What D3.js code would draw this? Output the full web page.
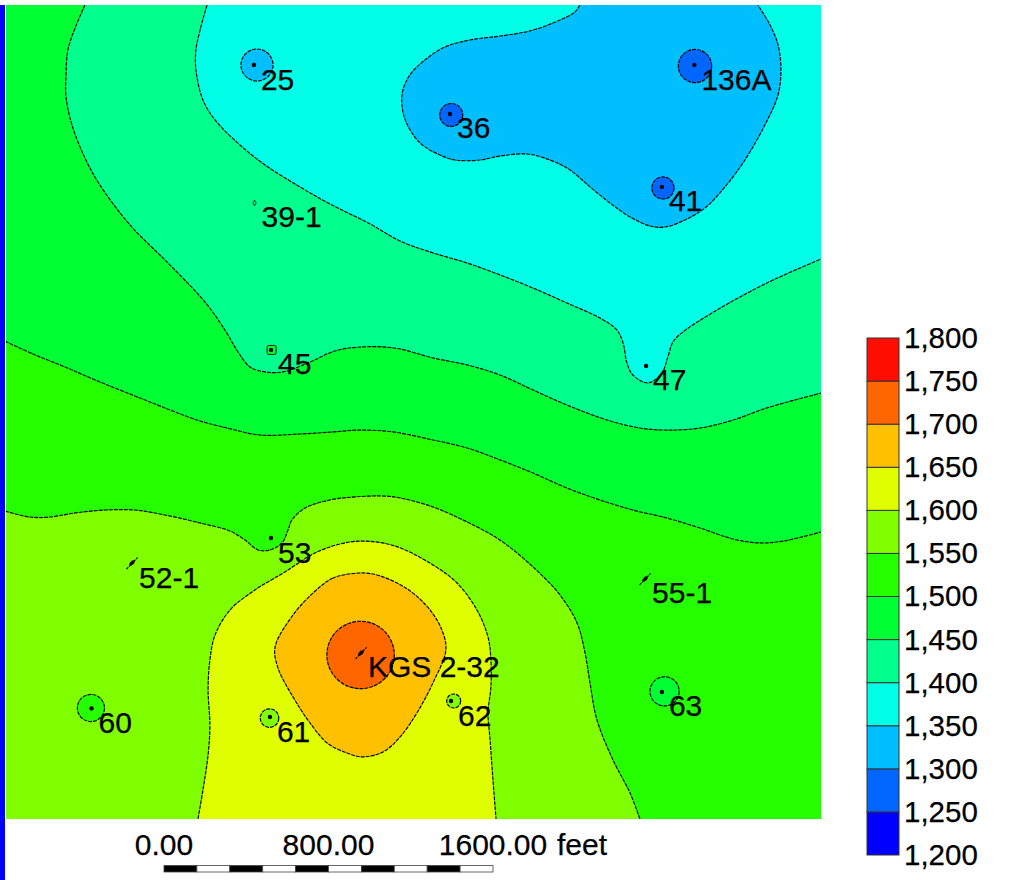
<!DOCTYPE html>
<html>
<head>
  <meta charset="utf-8">
  <script src="https://cdn.jsdelivr.net/npm/d3@7"></script>
  <style>
    html, body { margin: 0; padding: 0; background: #fff; }
    svg { display: block; }
    text { font-family: "Liberation Sans", Arial, sans-serif; fill: #000; stroke: #000; stroke-width: 0.25px; }
  </style>
</head>
<body>
<script type="text/javascript">
// legend levels and the colour of each 50 ft band, lowest first
var levels = [1200, 1250, 1300, 1350, 1400, 1450, 1500, 1550, 1600, 1650, 1700, 1750, 1800];
var bandColors = ["#0000ff", "#0066ff", "#00bfff", "#00ffe6", "#00ff8c", "#00ff33",
                  "#26ff00", "#80ff00", "#dfff00", "#ffc000", "#ff6600", "#ff0d00"];

// map extent in feet (east, north)
var mapWidth = 3970, mapHeight = 3960;

// contour lines, [east, north] in feet
var iso1350 = [[2797,3960],[2773,3926],[2700,3887],[2554,3834],[2408,3809],[2262,3790],[2141,3756],[2043,3693],[1970,3620],[1936,3547],[1931,3474],[1951,3391],[2019,3289],[2116,3230],[2189,3206],[2311,3206],[2408,3225],[2540,3235],[2651,3206],[2749,3157],[2846,3075],[2943,2997],[3041,2929],[3138,2885],[3211,2880],[3308,2914],[3406,2973],[3503,3075],[3600,3206],[3697,3376],[3761,3522],[3775,3644],[3761,3766],[3722,3863],[3663,3960]];
var iso1400 = [[983,3960],[949,3838],[929,3741],[929,3644],[963,3498],[1022,3401],[1143,3279],[1265,3182],[1435,3075],[1581,2992],[1776,2895],[1922,2812],[2082,2754],[2248,2705],[2408,2647],[2569,2583],[2734,2510],[2895,2437],[2977,2379],[3007,2316],[3026,2218],[3055,2160],[3128,2121],[3196,2170],[3225,2248],[3250,2321],[3298,2369],[3464,2476],[3707,2608],[3970,2724]];
var iso1450 = [[389,3960],[341,3848],[306,3741],[297,3620],[297,3513],[326,3376],[389,3216],[462,3084],[608,2890],[803,2695],[973,2515],[1070,2379],[1134,2272],[1192,2199],[1265,2175],[1352,2175],[1484,2223],[1605,2277],[1727,2296],[1897,2291],[2082,2243],[2248,2209],[2408,2160],[2569,2087],[2734,2014],[2929,1941],[3089,1902],[3221,1892],[3381,1902],[3542,1941],[3707,2000],[3970,2072]];
var iso1500 = [[0,2325],[136,2262],[292,2199],[462,2126],[657,2048],[803,1990],[934,1941],[1080,1902],[1241,1868],[1435,1873],[1596,1883],[1727,1892],[1888,1883],[2082,1844],[2248,1805],[2408,1747],[2569,1683],[2734,1610],[2895,1552],[3055,1503],[3221,1464],[3381,1416],[3542,1362],[3673,1343],[3785,1352],[3970,1396]];
var iso1550 = [[0,1498],[122,1469],[219,1469],[341,1489],[487,1503],[632,1503],[778,1479],[949,1440],[1095,1401],[1168,1357],[1231,1309],[1289,1309],[1348,1343],[1377,1406],[1396,1455],[1460,1513],[1581,1552],[1703,1567],[1849,1571],[1922,1562],[2082,1518],[2248,1445],[2408,1357],[2569,1226],[2700,1090],[2783,954],[2822,808],[2846,662],[2880,482],[2958,287],[3041,126],[3089,0]];
var iso1600 = [[939,0],[963,141],[988,311],[997,457],[988,628],[997,774],[1022,895],[1095,1017],[1216,1114],[1362,1202],[1508,1294],[1630,1338],[1742,1352],[1897,1328],[2082,1236],[2199,1148],[2296,1017],[2350,885],[2364,774],[2364,642],[2350,516],[2360,384],[2374,190],[2389,0]];
var iso1650 = [[1727,1197],[1596,1172],[1498,1099],[1401,992],[1314,837],[1328,735],[1401,594],[1484,467],[1567,370],[1664,321],[1737,302],[1839,326],[1922,399],[2004,516],[2082,662],[2145,822],[2126,919],[2068,1017],[1985,1099],[1907,1148],[1810,1187]];

// small closed contours round single wells: east, north, radius (feet), band index
var bullseyes = [
  [1730, 798, 164, 10],
  [1226, 3668, 78, 2],
  [2171, 3425, 56, 1],
  [3357, 3663, 81, 1],
  [3201, 3070, 54, 1],
  [418, 540, 66, 6],
  [1287, 491, 45, 7],
  [2183, 574, 34, 7],
  [3209, 621, 71, 5]
];
// the two tiniest ones come out as a diamond and a square on the grid
var tinyDiamond = [1214, 2997, 4];
var tinySquare = [1297, 2282, 5];

// wells
var wellNames = ["25", "36", "136A", "41", "39-1", "45", "47", "52-1", "53", "55-1", "KGS 2-32", "60", "61", "62", "63"];
var wellEast  = [1211, 2165, 3354, 3196, 1214, 1294, 3119, 618, 1294, 3114, 1732, 421, 1289, 2170, 3196];
var wellNorth = [3668, 3430, 3668, 3075, 2997, 2282, 2204, 1245, 1367, 1168, 808, 538, 496, 574, 618];
// these three have a short slanted mark instead of a dot
var slantWells = ["52-1", "55-1", "KGS 2-32"];

// scale bar
var scaleFeet = [0, 800, 1600];
var scaleBarStep = 160;

var width = 1033, height = 880;

var svg = d3.select("body").append("svg")
  .attr("width", width)
  .attr("height", height);

var x = d3.scaleLinear().domain([0, mapWidth]).range([5, 821]);
var y = d3.scaleLinear().domain([0, mapHeight]).range([819, 5]);
var feetPx = x(1) - x(0);

// blue strip down the left edge
svg.append("rect")
  .attr("x", 0).attr("y", 5)
  .attr("width", 5).attr("height", height - 5)
  .attr("fill", "#0000ff");

svg.append("clipPath").attr("id", "mapClip")
  .append("rect")
  .attr("x", 6).attr("y", 5)
  .attr("width", 815).attr("height", 814);

var map = svg.append("g").attr("clip-path", "url(#mapClip)");

var openLine = d3.line()
  .x(function(d) { return x(d[0]); })
  .y(function(d) { return y(d[1]); })
  .curve(d3.curveCatmullRom.alpha(0.5));

var closedLine = d3.line()
  .x(function(d) { return x(d[0]); })
  .y(function(d) { return y(d[1]); })
  .curve(d3.curveCatmullRomClosed.alpha(0.5));

// straight closing run along the map edge
function fillPath(pts, corners) {
  var tail = corners.map(function(c) { return "L" + x(c[0]) + "," + y(c[1]); }).join("");
  return openLine(pts) + tail + "Z";
}

var topRight = [[mapWidth, mapHeight]];
var topCorners = [[mapWidth, mapHeight], [0, mapHeight]];
var bottomLeft = [[0, 0]];

//base band
map.append("rect")
  .attr("x", x(0)).attr("y", y(mapHeight))
  .attr("width", x(mapWidth) - x(0)).attr("height", y(0) - y(mapHeight))
  .attr("fill", bandColors[6]);

//filled bands, painted from the outside in
var fills = [
  [iso1500, topCorners, 5],
  [iso1450, topRight, 4],
  [iso1400, topRight, 3],
  [iso1350, [], 2],
  [iso1550, bottomLeft, 7],
  [iso1600, [], 8]
];

fills.forEach(function(f) {
  map.append("path").attr("d", fillPath(f[0], f[1])).attr("fill", bandColors[f[2]]);
});

map.append("path").attr("d", closedLine(iso1650)).attr("fill", bandColors[9]);

//contour lines
var dash = "4 1";
var lineWidth = 1.15;

[iso1350, iso1400, iso1450, iso1500, iso1550, iso1600].forEach(function(pts) {
  map.append("path")
    .attr("d", openLine(pts))
    .attr("fill", "none")
    .attr("stroke", "#000")
    .attr("stroke-width", lineWidth)
    .attr("stroke-dasharray", dash);
});

map.append("path")
  .attr("d", closedLine(iso1650))
  .attr("fill", "none")
  .attr("stroke", "#000")
  .attr("stroke-width", lineWidth)
  .attr("stroke-dasharray", dash);

map.selectAll("circle.bull")
  .data(bullseyes)
  .enter().append("circle")
    .attr("class", "bull")
    .attr("cx", function(d) { return x(d[0]); })
    .attr("cy", function(d) { return y(d[1]); })
    .attr("r", function(d) { return d[2] * feetPx; })
    .attr("fill", function(d) { return bandColors[d[3]]; })
    .attr("stroke", "#000")
    .attr("stroke-width", lineWidth)
    .attr("stroke-dasharray", dash);

//the two tiny contours
map.append("path")
  .attr("d", d3.symbol().type(d3.symbolDiamond).size(9))
  .attr("transform", "translate(" + x(tinyDiamond[0]) + "," + y(tinyDiamond[1]) + ")")
  .attr("fill", bandColors[tinyDiamond[2]])
  .attr("stroke", "#000")
  .attr("stroke-width", 0.8);

map.append("rect")
  .attr("x", x(tinySquare[0]) - 4.5).attr("y", y(tinySquare[1]) - 4.5)
  .attr("width", 9).attr("height", 9)
  .attr("rx", 1.5)
  .attr("fill", bandColors[tinySquare[2]])
  .attr("stroke", "#000")
  .attr("stroke-width", 0.9);

//well marks and labels
wellNames.forEach(function(name, i) {
  var cx = x(wellEast[i]), cy = y(wellNorth[i]);
  if (name === "39-1") {
    // only the tiny diamond contour shows here
  } else if (slantWells.indexOf(name) >= 0) {
    map.append("line")
      .attr("x1", cx - 5.5).attr("y1", cy + 6)
      .attr("x2", cx + 5.5).attr("y2", cy - 5.5)
      .attr("stroke", "#000")
      .attr("stroke-width", 1.2)
      .attr("stroke-dasharray", "2.5 1");
    map.append("ellipse")
      .attr("cx", cx).attr("cy", cy)
      .attr("rx", 3.2).attr("ry", 1.8)
      .attr("transform", "rotate(-45 " + cx + " " + cy + ")")
      .attr("fill", "#000");
  } else {
    map.append("circle")
      .attr("cx", cx).attr("cy", cy)
      .attr("r", 2.2)
      .attr("fill", "#000");
  }
  svg.append("text")
    .attr("x", cx + 7)
    .attr("y", cy + 24.5)
    .style("font-size", "30px")
    .text(name);
});

//scale bar
var barX = d3.scaleLinear().domain([0, 1600]).range([164, 493]);
d3.range(0, 1600, scaleBarStep).forEach(function(ft, i) {
  svg.append("rect")
    .attr("x", barX(ft)).attr("y", 865.5)
    .attr("width", barX(ft + scaleBarStep) - barX(ft)).attr("height", 6.5)
    .attr("fill", i % 2 === 0 ? "#000" : "#fff")
    .attr("stroke", "#444")
    .attr("stroke-width", 0.8);
});

svg.selectAll("text.scaleLabel")
  .data(scaleFeet)
  .enter().append("text")
    .attr("class", "scaleLabel")
    .attr("x", function(d) { return barX(d); })
    .attr("y", 855)
    .attr("text-anchor", "middle")
    .style("font-size", "30px")
    .text(function(d) { return d3.format(".2f")(d); });

svg.append("text")
  .attr("x", 557)
  .attr("y", 855)
  .style("font-size", "30px")
  .text("feet");

//legend
var legendY = d3.scaleLinear().domain([1200, 1800]).range([855, 338]);
var legendX = 867, legendW = 32;

svg.selectAll("rect.band")
  .data(bandColors)
  .enter().append("rect")
    .attr("class", "band")
    .attr("x", legendX)
    .attr("y", function(d, i) { return legendY(levels[i + 1]); })
    .attr("width", legendW)
    .attr("height", function(d, i) { return legendY(levels[i]) - legendY(levels[i + 1]); })
    .attr("fill", function(d) { return d; })
    .attr("stroke", "#333")
    .attr("stroke-width", 1);

var legendAxis = d3.axisRight(legendY)
  .tickValues(levels)
  .tickSize(0)
  .tickPadding(5)
  .tickFormat(d3.format(","));

var axisG = svg.append("g")
  .attr("transform", "translate(" + (legendX + legendW) + ",0)")
  .call(legendAxis);

axisG.select(".domain").remove();
axisG.selectAll("text")
  .style("font-family", '"Liberation Sans", Arial, sans-serif')
  .style("font-size", "29.5px")
  .attr("fill", "#000");
</script>
</body>
</html>
